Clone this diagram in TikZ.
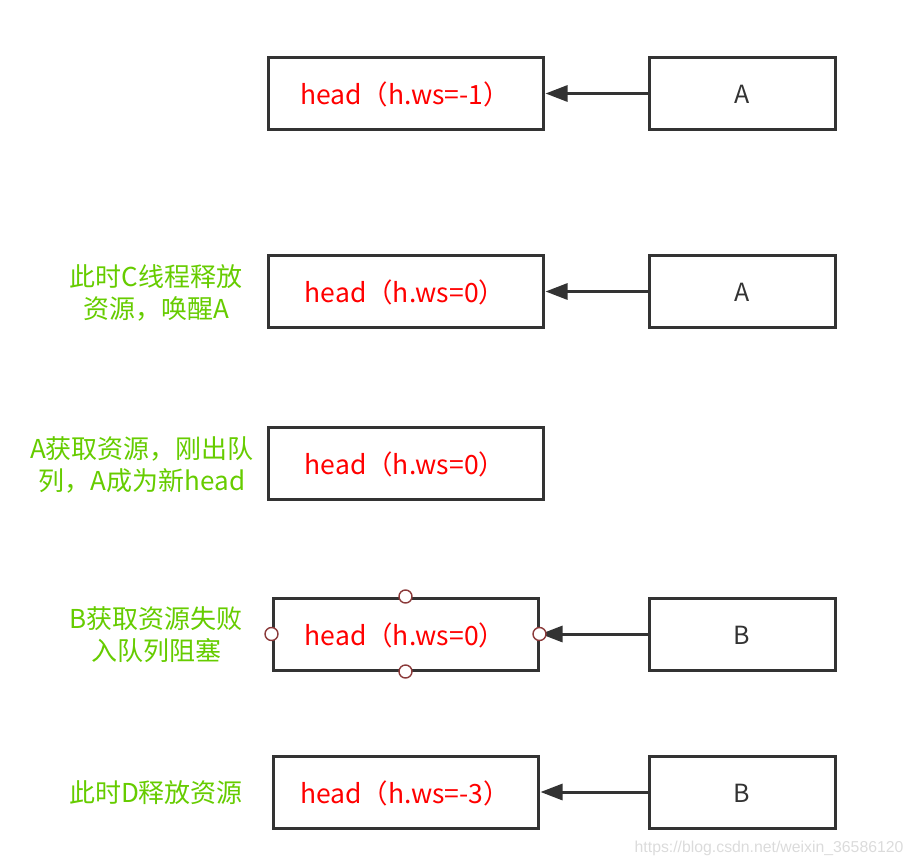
\documentclass[tikz,border=0pt]{standalone}
\usepackage{fontspec}
\setmainfont{Noto Sans CJK SC}
\newfontfamily\wmfont{Liberation Sans}
\usetikzlibrary{arrows.meta}
\definecolor{boxgray}{HTML}{333333}
\definecolor{lblgreen}{HTML}{66CC00}
\definecolor{hdred}{HTML}{FF0000}
\definecolor{ptred}{HTML}{8B3A3A}
\tikzset{
  box/.style={draw=boxgray, line width=3pt, minimum height=72pt, inner sep=0pt},
  headtxt/.style={text=hdred, font=\fontsize{26.5}{30}\selectfont},
  nodetxt/.style={text=boxgray, font=\fontsize{25}{30}\selectfont},
  note/.style={text=lblgreen, font=\fontsize{26}{32}\selectfont, align=center},
  link/.style={draw=boxgray, line width=3pt, -{Triangle[length=22pt,width=16pt]}, shorten >=1pt},
  handle/.style={circle, draw=ptred, fill=white, line width=1.4pt, minimum size=13pt, inner sep=0pt},
}
\begin{document}
\begin{tikzpicture}[x=1pt,y=-1pt]
\useasboundingbox (0,0) rectangle (915,867);
% row 1
\node[box, minimum width=275pt] (h1) at (405.5,93.5) {};
\node[headtxt] (h1t) at (405,94.5) {head（h.ws=-1）};
\node[box, minimum width=186pt] (a1) at (742,93.5) {};
\node[nodetxt] (a1t) at (742,94.5) {A};
\draw[link] (a1.west) -- (h1.east);
% row 2
\node[box, minimum width=275pt] (h2) at (405.5,291.5) {};
\node[headtxt] (h2t) at (405,292.5) {head（h.ws=0）};
\node[box, minimum width=186pt] (a2) at (742,291.5) {};
\node[nodetxt] (a2t) at (742,292.5) {A};
\draw[link] (a2.west) -- (h2.east);
\node[note] (n2) at (156,293) {此时C线程释放\\资源，唤醒A};
% row 3
\node[box, minimum width=275pt] (h3) at (405.5,463.5) {};
\node[headtxt] (h3t) at (405,464.5) {head（h.ws=0）};
\node[note] (n3) at (142,465) {A获取资源，刚出队\\列，A成为新head};
% row 4
\node[box, minimum width=265pt] (h4) at (405.5,634) {};
\node[headtxt] (h4t) at (405,635) {head（h.ws=0）};
\node[box, minimum width=186pt] (b4) at (742,634) {};
\node[nodetxt] (b4t) at (742,635) {B};
\draw[link] (b4.west) -- (h4.east);
\node[handle] (p1) at (h4.north) {};
\node[handle] (p2) at (h4.south) {};
\node[handle] (p3) at (h4.west) {};
\node[handle] (p4) at (h4.east) {};
\node[note] (n4) at (156,635) {B获取资源失败\\入队列阻塞};
% row 5
\node[box, minimum width=265pt] (h5) at (405.5,792) {};
\node[headtxt] (h5t) at (405,793) {head（h.ws=-3）};
\node[box, minimum width=186pt] (b5) at (742,792) {};
\node[nodetxt] (b5t) at (742,793) {B};
\draw[link] (b5.west) -- (h5.east);
\node[note] (n5) at (156,793) {此时D释放资源};
% watermark
\node[text=black!14, font=\fontsize{15.8}{18}\wmfont, anchor=east] (wm) at (907,848) {https://blog.csdn.net/weixin\_36586120};
\end{tikzpicture}
\end{document}
